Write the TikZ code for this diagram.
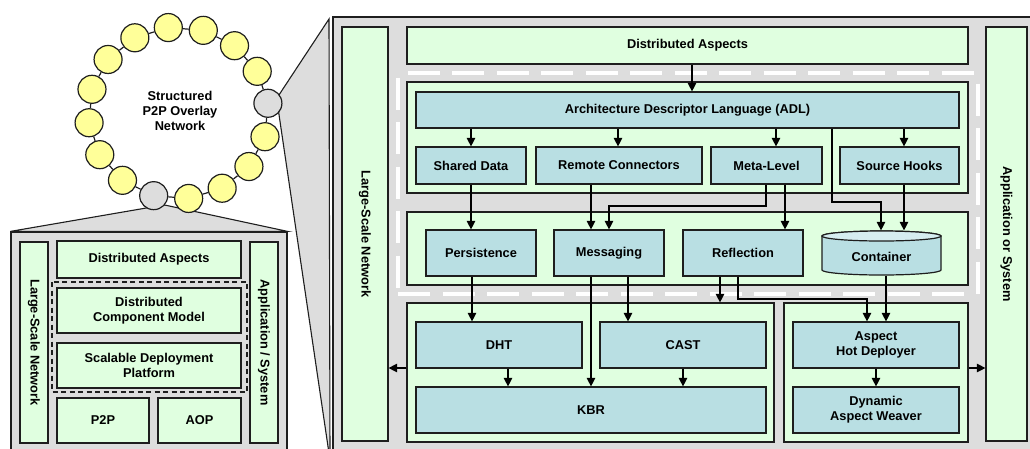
\documentclass[tikz,border=0pt]{standalone}
\usepackage{fontspec}
\setmainfont{Liberation Sans}
\usetikzlibrary{arrows.meta}
\pgfdeclarelayer{back}
\pgfsetlayers{back,main}

\definecolor{panelgray}{RGB}{221,221,221}
\definecolor{boxgreen}{RGB}{224,255,224}
\definecolor{boxblue}{RGB}{185,223,227}
\definecolor{capblue}{RGB}{214,237,240}
\definecolor{nodeyellow}{RGB}{255,255,153}
\definecolor{edge}{RGB}{30,30,30}

\tikzset{
  lbl/.style={font=\bfseries\fontsize{12.8}{15}\selectfont, text=black, align=center},
  base/.style={draw=edge, line width=1.2pt, inner sep=0pt, lbl},
  grn/.style={base, fill=boxgreen},
  blu/.style={base, fill=boxblue},
  pnl/.style={base, fill=panelgray},
  peer/.style={circle, draw=edge, line width=1.2pt, fill=nodeyellow, minimum size=28pt, inner sep=0pt},
  ring/.style={draw=edge, line width=1.2pt},
  arr/.style={draw=black, line width=1.2pt, -{Triangle[length=8.5pt,width=8.5pt]}},
  lane/.style={draw=white, line width=4pt, dash pattern=on 32pt off 12.5pt},
  group/.style={draw=edge, line width=1.1pt, dash pattern=on 5pt off 3.5pt},
  callout/.style={draw=edge, line width=1.1pt, fill=panelgray},
  cyl/.style={draw=edge, line width=1.2pt},
}

% rectangle node given by its two corners: style, name, x1, y1, x2, y2, text
\newcommand\rbox[7]{%
  \pgfmathsetmacro\rbw{(#5)-(#3)}%
  \pgfmathsetmacro\rbh{(#6)-(#4)}%
  \node[#1, minimum width=\rbw pt, minimum height=\rbh pt] (#2) at ({((#3)+(#5))/2},{((#4)+(#6))/2}) {#7};}
% text running downwards inside a tall box
\newcommand\vlabel[2]{\node[lbl, rotate=-90] at (#1.center) {#2};}

\begin{document}
\begin{tikzpicture}[x=1pt,y=-1pt]
\useasboundingbox (0,0) rectangle (1030,448);
\clip (0,0) rectangle (1030,448);

% ---------- structured overlay ring ----------
\foreach \k in {0,...,15} {
  \pgfmathsetmacro\ang{6.5+22.5*\k}
  \def\fc{nodeyellow}
  \ifnum\k=0 \def\fc{panelgray}\fi
  \ifnum\k=11 \def\fc{panelgray}\fi
  \node[peer, fill=\fc] (r\k) at ({178.5+90*cos(\ang)},{113-86*sin(\ang)}) {};
}
\foreach \k [evaluate=\k as \n using {int(mod(\k+1,16))}] in {0,...,15}
  \draw[ring] (r\k) -- (r\n);
\node[lbl] (title) at (180,111) {Structured\\P2P Overlay\\Network};

% ---------- small node stack ----------
\rbox{pnl}{lbox}{11}{232}{287}{470}{}
\rbox{grn}{llsn}{20}{242}{48}{443}{}
\vlabel{llsn}{Large-Scale Network}
\rbox{grn}{lapp}{250}{242}{278}{443}{}
\vlabel{lapp}{Application / System}
\rbox{grn}{lda}{57}{241}{241}{278}{Distributed Aspects}
\draw[group] (52,282) rectangle (247,392);
\rbox{grn}{ldcm}{57}{288}{241}{333}{Distributed\\Component Model}
\rbox{grn}{lsdp}{57}{343}{241}{388}{Scalable Deployment\\Platform}
\rbox{grn}{lp2p}{57}{398}{149}{443}{P2P}
\rbox{grn}{laop}{158}{398}{241}{443}{AOP}

% ---------- detailed node architecture ----------
\rbox{pnl}{mp}{333}{17}{1060}{470}{}
\rbox{grn}{lsn}{342}{27}{388}{441}{}
\vlabel{lsn}{Large-Scale Network}
\rbox{grn}{app}{986}{27}{1027}{441}{}
\vlabel{app}{Application or System}
\rbox{grn}{da}{407}{27}{968}{64}{Distributed Aspects}

% dashed lanes around the component model
\draw[lane, dash phase=35pt] (398,73) -- (978,73);
\draw[lane, dash phase=40pt] (398,73) -- (398,294);
\draw[lane] (398,294) -- (968,294);
\draw[lane, dash phase=34pt] (978,73) -- (978,294);

% component model
\rbox{grn}{topblk}{407}{82}{968}{193}{}
\rbox{blu}{adl}{416}{92}{959}{128}{Architecture Descriptor Language (ADL)}
\rbox{blu}{sd}{416}{147}{526}{184}{Shared Data}
\rbox{blu}{rc}{536}{147}{702}{184}{Remote Connectors}
\rbox{blu}{ml}{711}{147}{822}{184}{Meta-Level}
\rbox{blu}{sh}{840}{147}{959}{184}{Source Hooks}

% deployment platform
\rbox{grn}{midblk}{407}{212}{968}{285}{}
\rbox{blu}{per}{426}{230}{536}{276}{Persistence}
\rbox{blu}{msg}{554}{230}{664}{276}{Messaging}
\rbox{blu}{ref}{683}{230}{803}{276}{Reflection}
\rbox{base, draw=none}{ct}{822}{231}{941}{275}{}
\draw[cyl, fill=boxblue] (822,236) -- (822,270)
  arc[start angle=180, end angle=360, x radius=59.5pt, y radius=5pt]
  -- (941,236) arc[start angle=0, end angle=180, x radius=59.5pt, y radius=5pt] -- cycle;
\draw[cyl, fill=capblue] (881.5,236) ellipse[x radius=59.5pt, y radius=5pt];
\node[lbl] at (881.5,257) {Container};

% P2P and AOP layers
\rbox{grn}{botL}{407}{303}{774}{442}{}
\rbox{blu}{dht}{416}{322}{582}{368}{DHT}
\rbox{blu}{cast}{600}{322}{766}{368}{CAST}
\rbox{blu}{kbr}{416}{387}{766}{433}{KBR}
\rbox{grn}{botR}{784}{303}{968}{442}{}
\rbox{blu}{ahd}{793}{322}{959}{368}{Aspect\\Hot Deployer}
\rbox{blu}{daw}{793}{387}{959}{433}{Dynamic\\Aspect Weaver}

% ---------- callouts ----------
\begin{pgfonlayer}{back}
  \draw[callout] (r11.-122) -- (lbox.north west) -- (lbox.north east) -- (r11.-40) -- cycle;
  \draw[callout] (r0.38) -- (329,19) -- (330,460) -- (r0.-42) -- cycle;
\end{pgfonlayer}

% ---------- dependencies ----------
\draw[arr] (da.south -| 692,0) -- (adl.north -| 692,0);
\draw[arr] (adl.south -| sd.north) -- (sd.north);
\draw[arr] (adl.south -| 618,0) -- (rc.north -| 618,0);
\draw[arr] (adl.south -| 776,0) -- (ml.north -| 776,0);
\draw[arr] (adl.south -| 904,0) -- (sh.north -| 904,0);
\draw[arr] (adl.south -| 832,0) -- (832,202) -- (881,202) -- (ct.north -| 881,0);
\draw[arr] (sh.south -| 904,0) -- (ct.north -| 904,0);

\draw[arr] (sd.south) -- (per.north -| sd.south);
\draw[arr] (rc.south -| 591,0) -- (msg.north -| 591,0);
\draw[arr] (ml.south -| 766,0) -- (766,206) -- (609,206) -- (msg.north -| 609,0);
\draw[arr] (ml.south -| 785,0) -- (ref.north -| 785,0);

\draw[arr] (per.south -| 472,0) -- (dht.north -| 472,0);
\draw[arr] (msg.south -| 591,0) -- (kbr.north -| 591,0);
\draw[arr] (msg.south -| 628,0) -- (cast.north -| 628,0);
\draw[arr] (ref.south -| 720,0) -- (botL.north -| 720,0);
\draw[arr] (ref.south -| 738,0) -- (738,299) -- (867,299) -- (ahd.north -| 867,0);
\draw[arr] (ct.south -| 886,0) -- (ahd.north -| 886,0);

\draw[arr] (dht.south -| 508,0) -- (kbr.north -| 508,0);
\draw[arr] (cast.south) -- (kbr.north -| cast.south);
\draw[arr] (ahd.south) -- (daw.north);

\draw[arr] (botL.west |- 0,368) -- (lsn.east |- 0,368);
\draw[arr] (botR.east |- 0,368) -- (app.west |- 0,368);
\end{tikzpicture}
\end{document}
